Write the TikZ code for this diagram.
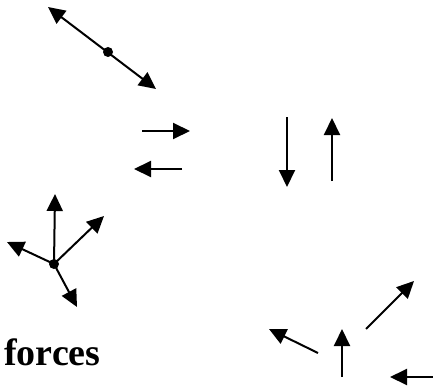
\documentclass[tikz,border=0pt]{standalone}
\usepackage{fontspec}
\setmainfont{Liberation Serif}
\usetikzlibrary{arrows.meta}
\tikzset{
  vec/.style={line width=2pt,-{Triangle[length=17pt,width=16pt]}},
  dvec/.style={line width=2pt,{Triangle[length=17pt,width=16pt]}-{Triangle[length=17pt,width=16pt]}},
  pt/.style={circle,fill=black,inner sep=0pt,minimum size=10pt}
}
\begin{document}
\begin{tikzpicture}[x=1pt,y=-1pt]
\useasboundingbox (0,0) rectangle (433,385);
% double arrow with dot
\coordinate (d1) at (48,7);
\coordinate (d2) at (156,89);
\node[pt] (dc) at (108,52) {};
\draw[dvec] (d1) -- (d2);
% horizontal pair
\coordinate (h1a) at (142,131); \coordinate (h1b) at (190,131);
\draw[vec] (h1a) -- (h1b);
\coordinate (h2a) at (182,169); \coordinate (h2b) at (134,169);
\draw[vec] (h2a) -- (h2b);
% vertical pair
\coordinate (v1a) at (287,117); \coordinate (v1b) at (287,187);
\draw[vec] (v1a) -- (v1b);
\coordinate (v2a) at (332,181); \coordinate (v2b) at (332,118);
\draw[vec] (v2a) -- (v2b);
% concurrent forces
\node[pt] (c) at (54,264) {};
\coordinate (c1) at (55,194);
\coordinate (c2) at (104,216);
\coordinate (c3) at (7,242);
\coordinate (c4) at (77,307);
\draw[vec] (c.center) -- (c1);
\draw[vec] (c.center) -- (c2);
\draw[vec] (c.center) -- (c3);
\draw[vec] (c.center) -- (c4);
% scattered forces
\coordinate (s1a) at (366,329); \coordinate (s1b) at (414,281);
\draw[vec] (s1a) -- (s1b);
\coordinate (s2a) at (318,353); \coordinate (s2b) at (269,329);
\draw[vec] (s2a) -- (s2b);
\coordinate (s3a) at (342,377); \coordinate (s3b) at (342,329);
\draw[vec] (s3a) -- (s3b);
\coordinate (s4a) at (436,377); \coordinate (s4b) at (390,377);
\draw[vec] (s4a) -- (s4b);
% label
\node[anchor=base west,inner sep=0pt,font=\fontsize{38}{40}\selectfont\bfseries] (lbl) at (4,365) {forces};
\end{tikzpicture}
\end{document}
